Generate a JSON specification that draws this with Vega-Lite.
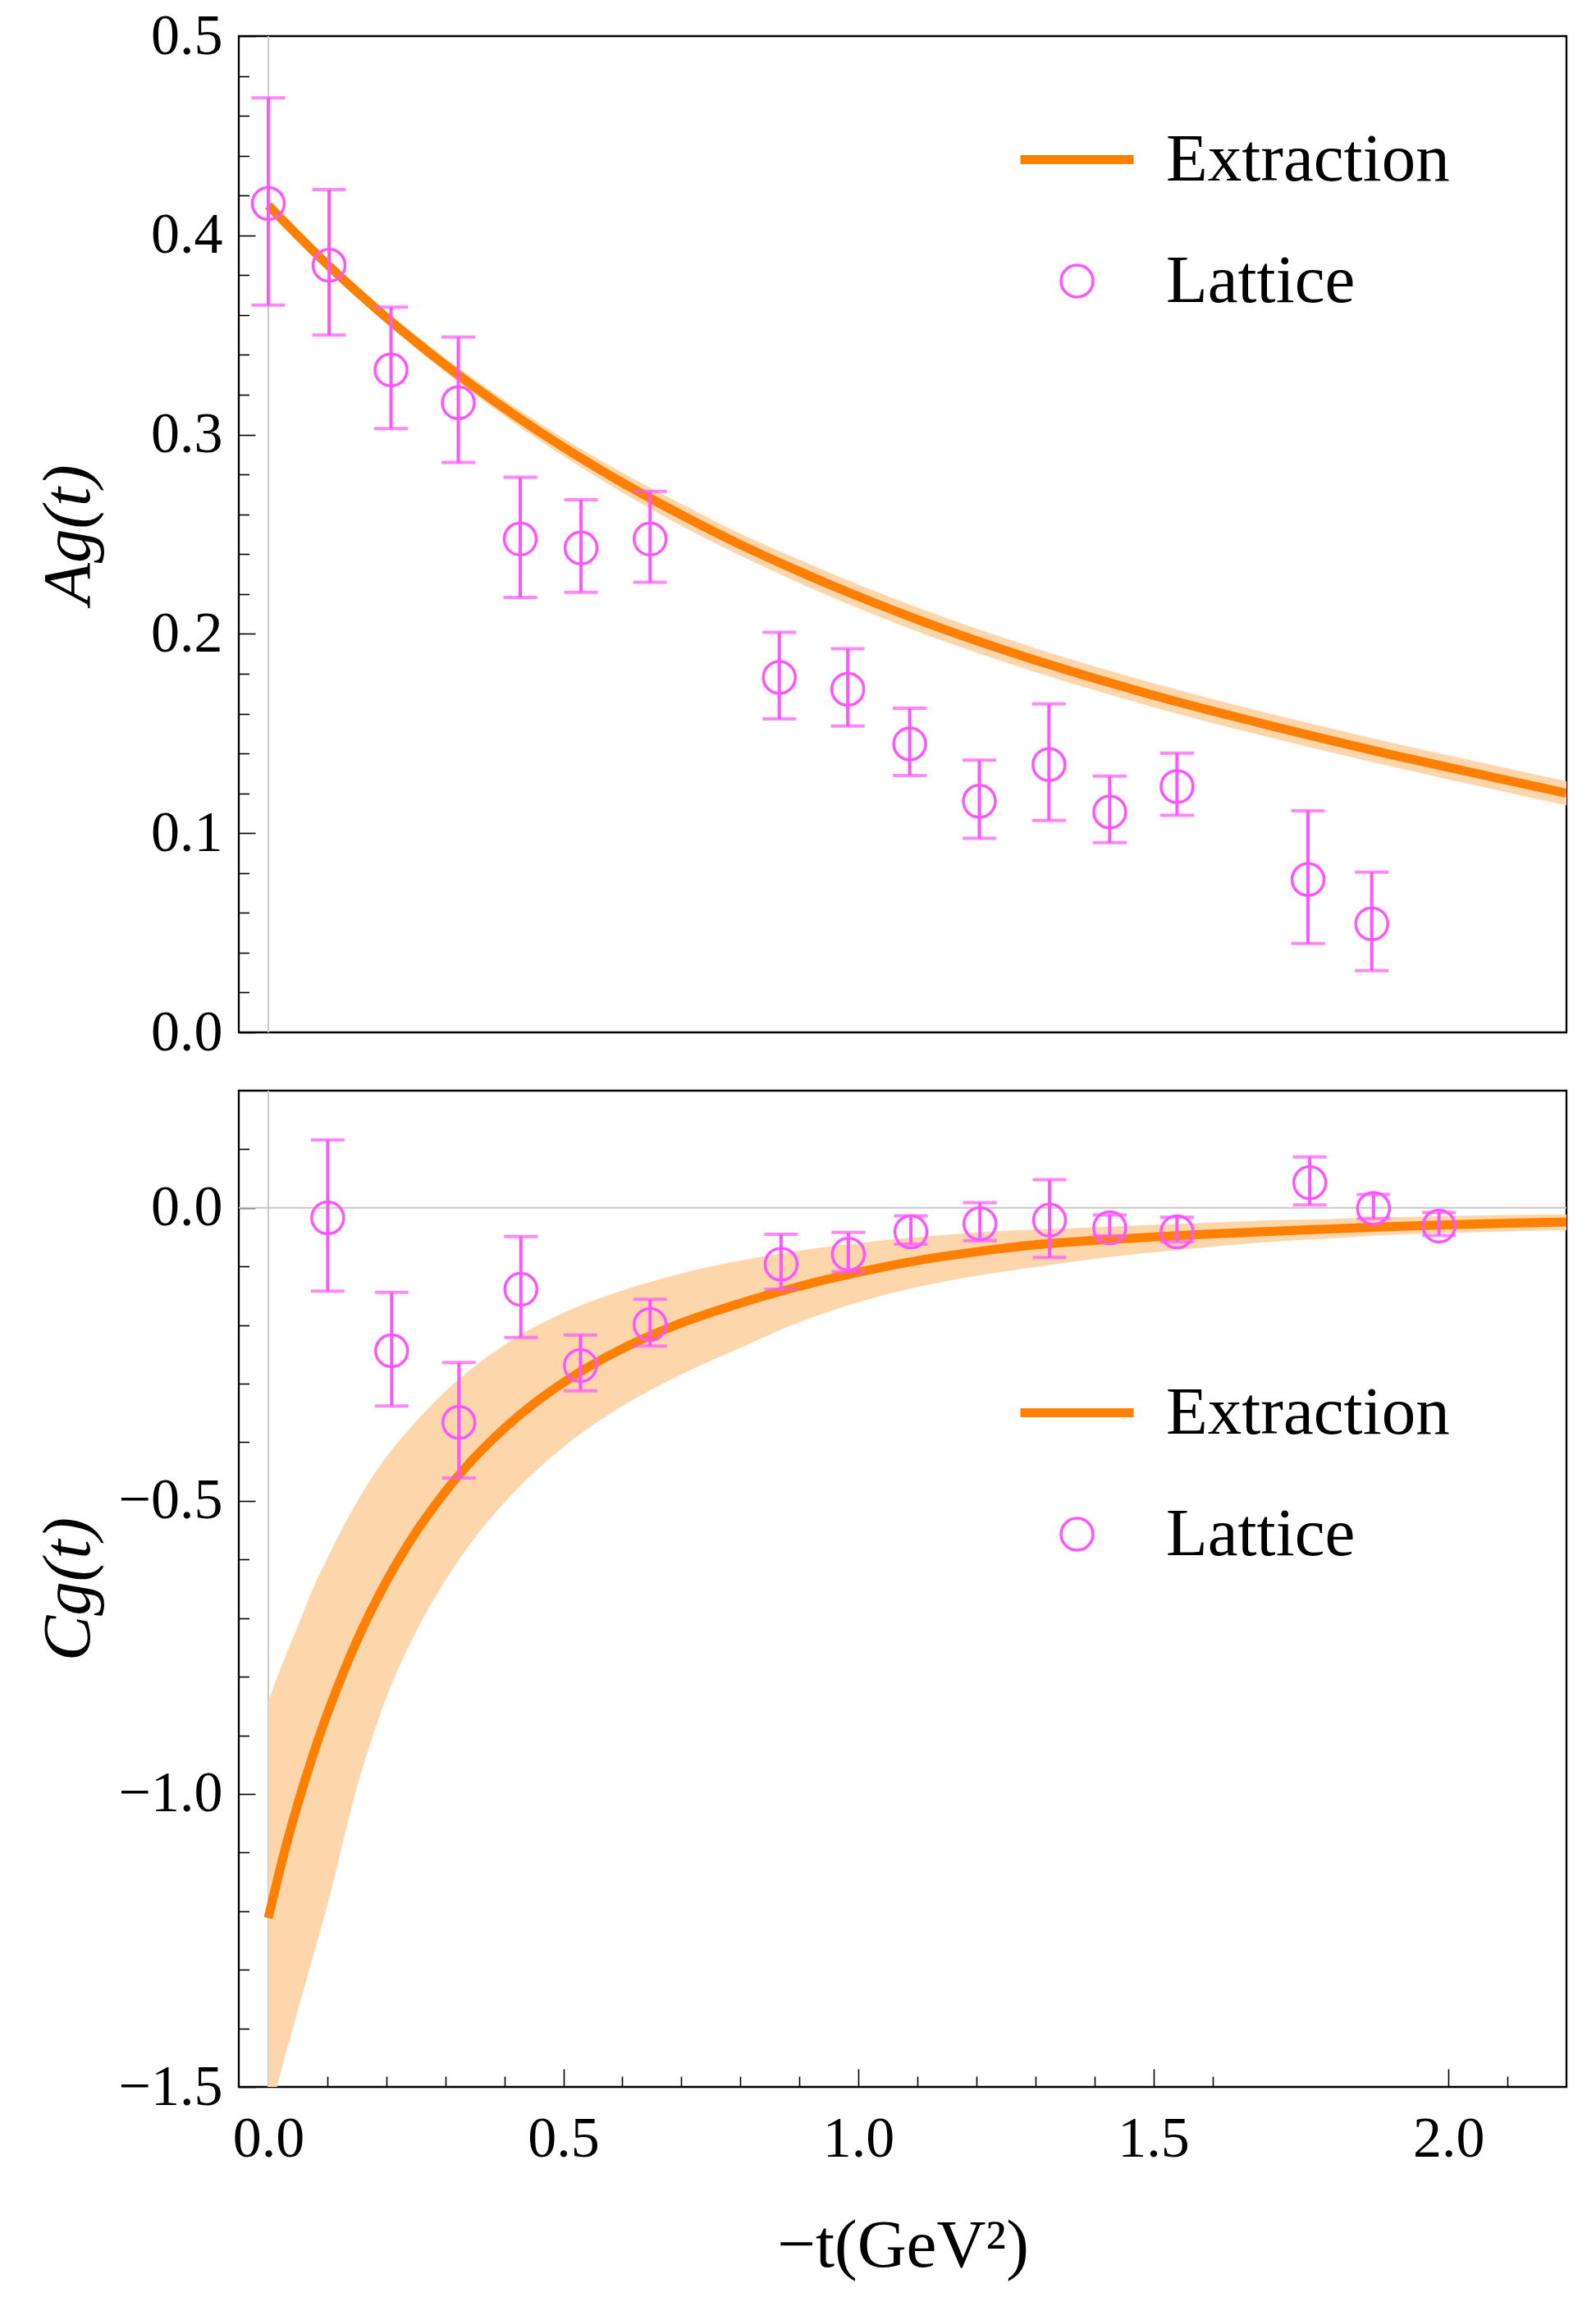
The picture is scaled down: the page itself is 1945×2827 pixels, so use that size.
{
  "$schema": "https://vega.github.io/schema/vega-lite/v6.json",
  "background": "white",
  "padding": {"left": 40, "top": 7, "right": 30, "bottom": 40},
  "config": {
    "font": "Liberation Serif",
    "view": {"stroke": "black", "strokeWidth": 2.3},
    "axis": {
      "domain": false, "grid": false, "tickColor": "black", "tickWidth": 1.6,
      "labelFont": "Liberation Serif", "labelFontSize": 70, "labelColor": "black",
      "labelFlush": false, "labelOverlap": false, "labelBound": false,
      "titleFont": "Liberation Serif", "titleFontSize": 83, "titleColor": "black", "titleFontWeight": "normal"
    },
    "legend": {
      "orient": "none", "padding": 0, "rowPadding": 64, "labelFont": "Liberation Serif",
      "labelFontSize": 83, "labelColor": "black", "labelOffset": 34, "labelLimit": 600
    }
  },
  "datasets": {
    "A_lattice": [
      {"t": 0.0, "y": 0.416, "lo": 0.365, "hi": 0.469, "series": "Lattice"},
      {"t": 0.103, "y": 0.385, "lo": 0.350, "hi": 0.423, "series": "Lattice"},
      {"t": 0.208, "y": 0.3325, "lo": 0.303, "hi": 0.364, "series": "Lattice"},
      {"t": 0.322, "y": 0.316, "lo": 0.286, "hi": 0.349, "series": "Lattice"},
      {"t": 0.427, "y": 0.2476, "lo": 0.2183, "hi": 0.2786, "series": "Lattice"},
      {"t": 0.530, "y": 0.2431, "lo": 0.2209, "hi": 0.2673, "series": "Lattice"},
      {"t": 0.647, "y": 0.2476, "lo": 0.2259, "hi": 0.2715, "series": "Lattice"},
      {"t": 0.866, "y": 0.1781, "lo": 0.1573, "hi": 0.2008, "series": "Lattice"},
      {"t": 0.982, "y": 0.1722, "lo": 0.1537, "hi": 0.1925, "series": "Lattice"},
      {"t": 1.087, "y": 0.1448, "lo": 0.1289, "hi": 0.1627, "series": "Lattice"},
      {"t": 1.205, "y": 0.116, "lo": 0.0974, "hi": 0.1366, "series": "Lattice"},
      {"t": 1.323, "y": 0.1344, "lo": 0.1064, "hi": 0.1648, "series": "Lattice"},
      {"t": 1.426, "y": 0.1106, "lo": 0.0952, "hi": 0.1286, "series": "Lattice"},
      {"t": 1.540, "y": 0.1234, "lo": 0.1089, "hi": 0.1401, "series": "Lattice"},
      {"t": 1.762, "y": 0.0767, "lo": 0.0446, "hi": 0.1112, "series": "Lattice"},
      {"t": 1.870, "y": 0.0545, "lo": 0.0310, "hi": 0.0804, "series": "Lattice"}
    ],
    "C_lattice": [
      {"t": 0.1007, "y": -0.017, "lo": -0.142, "hi": 0.116, "series": "Lattice"},
      {"t": 0.209, "y": -0.244, "lo": -0.338, "hi": -0.144, "series": "Lattice"},
      {"t": 0.323, "y": -0.366, "lo": -0.461, "hi": -0.264, "series": "Lattice"},
      {"t": 0.428, "y": -0.139, "lo": -0.221, "hi": -0.049, "series": "Lattice"},
      {"t": 0.529, "y": -0.269, "lo": -0.312, "hi": -0.217, "series": "Lattice"},
      {"t": 0.647, "y": -0.199, "lo": -0.236, "hi": -0.156, "series": "Lattice"},
      {"t": 0.869, "y": -0.096, "lo": -0.139, "hi": -0.045, "series": "Lattice"},
      {"t": 0.983, "y": -0.079, "lo": -0.109, "hi": -0.042, "series": "Lattice"},
      {"t": 1.089, "y": -0.041, "lo": -0.062, "hi": -0.0135, "series": "Lattice"},
      {"t": 1.206, "y": -0.027, "lo": -0.056, "hi": 0.009, "series": "Lattice"},
      {"t": 1.324, "y": -0.021, "lo": -0.0845, "hi": 0.048, "series": "Lattice"},
      {"t": 1.426, "y": -0.034, "lo": -0.048, "hi": -0.012, "series": "Lattice"},
      {"t": 1.540, "y": -0.041, "lo": -0.058, "hi": -0.016, "series": "Lattice"},
      {"t": 1.765, "y": 0.043, "lo": 0.005, "hi": 0.087, "series": "Lattice"},
      {"t": 1.873, "y": -0.001, "lo": -0.018, "hi": 0.023, "series": "Lattice"},
      {"t": 1.984, "y": -0.031, "lo": -0.047, "hi": -0.008, "series": "Lattice"}
    ],
    "A_curve": [
      {"t": 0.0, "y": 0.415, "lo": 0.413, "hi": 0.417},
      {"t": 0.1, "y": 0.3854, "lo": 0.3829, "hi": 0.3879},
      {"t": 0.2, "y": 0.3588, "lo": 0.3558, "hi": 0.3618},
      {"t": 0.3, "y": 0.3349, "lo": 0.3314, "hi": 0.3384},
      {"t": 0.4, "y": 0.3133, "lo": 0.3093, "hi": 0.3173},
      {"t": 0.5, "y": 0.2937, "lo": 0.2892, "hi": 0.2982},
      {"t": 0.6, "y": 0.2759, "lo": 0.2709, "hi": 0.2809},
      {"t": 0.7, "y": 0.2597, "lo": 0.2542, "hi": 0.2652},
      {"t": 0.8, "y": 0.2448, "lo": 0.2393, "hi": 0.2503},
      {"t": 0.9, "y": 0.2313, "lo": 0.2255, "hi": 0.2371},
      {"t": 1.0, "y": 0.2188, "lo": 0.2128, "hi": 0.2248},
      {"t": 1.1, "y": 0.2072, "lo": 0.2012, "hi": 0.2132},
      {"t": 1.2, "y": 0.1966, "lo": 0.1906, "hi": 0.2026},
      {"t": 1.3, "y": 0.1868, "lo": 0.1808, "hi": 0.1928},
      {"t": 1.4, "y": 0.1777, "lo": 0.1717, "hi": 0.1837},
      {"t": 1.5, "y": 0.1692, "lo": 0.1632, "hi": 0.1752},
      {"t": 1.6, "y": 0.1613, "lo": 0.1553, "hi": 0.1673},
      {"t": 1.7, "y": 0.1538, "lo": 0.1478, "hi": 0.1598},
      {"t": 1.8, "y": 0.1466, "lo": 0.1406, "hi": 0.1526},
      {"t": 1.9, "y": 0.1396, "lo": 0.1336, "hi": 0.1456},
      {"t": 2.0, "y": 0.1330, "lo": 0.1270, "hi": 0.1390},
      {"t": 2.1, "y": 0.1265, "lo": 0.1205, "hi": 0.1325},
      {"t": 2.2, "y": 0.1200, "lo": 0.1140, "hi": 0.1260}
    ],
    "C_curve": [
      {"t": 0.0, "y": -1.212, "lo": -1.56, "hi": -0.842},
      {"t": 0.025, "y": -1.108, "lo": -1.46, "hi": -0.775},
      {"t": 0.05, "y": -1.017, "lo": -1.37, "hi": -0.714},
      {"t": 0.075, "y": -0.936, "lo": -1.28, "hi": -0.651},
      {"t": 0.1, "y": -0.8635, "lo": -1.19, "hi": -0.598},
      {"t": 0.15, "y": -0.739, "lo": -0.99, "hi": -0.502},
      {"t": 0.2, "y": -0.6375, "lo": -0.836, "hi": -0.425},
      {"t": 0.25, "y": -0.5538, "lo": -0.724, "hi": -0.365},
      {"t": 0.3, "y": -0.4841, "lo": -0.636, "hi": -0.313},
      {"t": 0.35, "y": -0.4256, "lo": -0.563, "hi": -0.270},
      {"t": 0.4, "y": -0.3762, "lo": -0.503, "hi": -0.234},
      {"t": 0.45, "y": -0.3341, "lo": -0.452, "hi": -0.204},
      {"t": 0.5, "y": -0.2981, "lo": -0.408, "hi": -0.179},
      {"t": 0.6, "y": -0.2402, "lo": -0.338, "hi": -0.141},
      {"t": 0.7, "y": -0.1964, "lo": -0.284, "hi": -0.112},
      {"t": 0.8, "y": -0.1626, "lo": -0.239, "hi": -0.090},
      {"t": 0.9, "y": -0.134, "lo": -0.195, "hi": -0.073},
      {"t": 1.0, "y": -0.110, "lo": -0.161, "hi": -0.060},
      {"t": 1.1, "y": -0.090, "lo": -0.135, "hi": -0.050},
      {"t": 1.2, "y": -0.075, "lo": -0.116, "hi": -0.042},
      {"t": 1.3, "y": -0.063, "lo": -0.101, "hi": -0.037},
      {"t": 1.4, "y": -0.0555, "lo": -0.087, "hi": -0.033},
      {"t": 1.5, "y": -0.0495, "lo": -0.076, "hi": -0.029},
      {"t": 1.6, "y": -0.0445, "lo": -0.066, "hi": -0.025},
      {"t": 1.7, "y": -0.040, "lo": -0.058, "hi": -0.021},
      {"t": 1.8, "y": -0.036, "lo": -0.052, "hi": -0.019},
      {"t": 1.9, "y": -0.032, "lo": -0.046, "hi": -0.016},
      {"t": 2.0, "y": -0.029, "lo": -0.043, "hi": -0.014},
      {"t": 2.1, "y": -0.026, "lo": -0.040, "hi": -0.012},
      {"t": 2.2, "y": -0.024, "lo": -0.038, "hi": -0.011}
    ]
  },
  "spacing": 71,
  "bounds": "flush",
  "resolve": {"scale": {"x": "independent", "y": "independent", "color": "independent", "shape": "independent", "size": "independent", "strokeWidth": "independent"}},
  "vconcat": [
    {
      "width": 1618,
      "height": 1214,
      "resolve": {"axis": {"y": "independent"}},
      "layer": [
        {
          "data": {"values": [{}]},
          "mark": {"type": "rule", "color": "#C8C8C8", "strokeWidth": 2},
          "encoding": {
            "x": {"datum": 0, "type": "quantitative", "scale": {"domain": [-0.05, 2.2], "nice": false, "zero": false}, "axis": null}
          }
        },
        {
          "data": {"name": "A_curve"},
          "mark": {"type": "area", "color": "#FED6AB", "interpolate": "monotone", "clip": true},
          "encoding": {
            "x": {"field": "t", "type": "quantitative", "axis": null},
            "y": {
              "field": "lo", "type": "quantitative", "title": "Ag(t)",
              "scale": {"domain": [0, 0.5], "nice": false, "zero": false},
              "axis": {
                "orient": "left",
                "values": [0, 0.1, 0.2, 0.3, 0.4, 0.5],
                "format": ".1f",
                "tickSize": -20,
                "labelPadding": 40,
                "titleX": -208,
                "titleBaseline": "middle",
                "titleFontStyle": "italic"
              }
            },
            "y2": {"field": "hi"}
          }
        },
        {
          "data": {"name": "A_curve"},
          "mark": {"type": "line", "color": "#FF8000", "strokeWidth": 11, "interpolate": "monotone", "clip": true},
          "encoding": {
            "x": {"field": "t", "type": "quantitative", "axis": null},
            "y": {
              "field": "y", "type": "quantitative",
              "axis": {
                "orient": "left", "title": null, "labels": false, "tickSize": -12.5,
                "values": [0.02, 0.04, 0.06, 0.08, 0.12, 0.14, 0.16, 0.18, 0.22, 0.24, 0.26, 0.28, 0.32, 0.34, 0.36, 0.38, 0.42, 0.44, 0.46, 0.48]
              }
            }
          }
        },
        {
          "data": {"name": "A_lattice"},
          "mark": {"type": "errorbar", "color": "#FF55FF", "thickness": 4, "ticks": {"size": 41, "thickness": 4, "color": "#FF55FF"}, "rule": {"strokeWidth": 4, "color": "#FF55FF"}},
          "encoding": {
            "x": {"field": "t", "type": "quantitative", "axis": null},
            "y": {"field": "lo", "type": "quantitative", "axis": null},
            "y2": {"field": "hi"}
          }
        },
        {
          "data": {"name": "A_lattice"},
          "mark": {"type": "point", "filled": false, "opacity": 1},
          "encoding": {
            "x": {"field": "t", "type": "quantitative", "axis": null},
            "y": {"field": "y", "type": "quantitative", "axis": null},
            "color": {
              "field": "series", "type": "nominal",
              "scale": {"domain": ["Extraction", "Lattice"], "range": ["#FF8000", "#FF55FF"]},
              "legend": {"title": null, "legendX": 947, "legendY": 76}
            },
            "shape": {
              "field": "series", "type": "nominal",
              "scale": {"domain": ["Extraction", "Lattice"], "range": ["stroke", "circle"]},
              "legend": {"title": null, "legendX": 947, "legendY": 76}
            },
            "size": {
              "field": "series", "type": "nominal",
              "scale": {"type": "ordinal", "domain": ["Extraction", "Lattice"], "range": [19044, 1521]},
              "legend": {"title": null, "legendX": 947, "legendY": 76}
            },
            "strokeWidth": {
              "field": "series", "type": "nominal",
              "scale": {"type": "ordinal", "domain": ["Extraction", "Lattice"], "range": [11, 3.5]},
              "legend": {"title": null, "legendX": 947, "legendY": 76}
            }
          }
        }
      ]
    },
    {
      "width": 1618,
      "height": 1214,
      "resolve": {"axis": {"x": "independent", "y": "independent"}},
      "layer": [
        {
          "data": {"values": [{}]},
          "mark": {"type": "rule", "color": "#C8C8C8", "strokeWidth": 2},
          "encoding": {
            "x": {"datum": 0, "type": "quantitative", "scale": {"domain": [-0.05, 2.2], "nice": false, "zero": false}, "axis": null}
          }
        },
        {
          "data": {"values": [{}]},
          "mark": {"type": "rule", "color": "#C8C8C8", "strokeWidth": 2},
          "encoding": {
            "y": {"datum": 0, "type": "quantitative", "scale": {"domain": [-1.5, 0.2], "nice": false, "zero": false}, "axis": null}
          }
        },
        {
          "data": {"name": "C_curve"},
          "mark": {"type": "area", "color": "#FED6AB", "interpolate": "monotone", "clip": true},
          "encoding": {
            "x": {
              "field": "t", "type": "quantitative", "title": "−t(GeV²)",
              "axis": {
                "orient": "bottom",
                "values": [0, 0.5, 1, 1.5, 2],
                "format": ".1f",
                "tickSize": -22,
                "labelPadding": 51,
                "titleY": 218,
                "titleBaseline": "alphabetic"
              }
            },
            "y": {
              "field": "lo", "type": "quantitative", "title": "Cg(t)",
              "axis": {
                "orient": "left",
                "values": [-1.5, -1, -0.5, 0],
                "format": ".1f",
                "tickSize": -20,
                "labelPadding": 40,
                "titleX": -208,
                "titleBaseline": "middle",
                "titleFontStyle": "italic"
              }
            },
            "y2": {"field": "hi"}
          }
        },
        {
          "data": {"name": "C_curve"},
          "mark": {"type": "line", "color": "#FF8000", "strokeWidth": 11, "interpolate": "monotone", "clip": true},
          "encoding": {
            "x": {
              "field": "t", "type": "quantitative",
              "axis": {
                "orient": "bottom", "title": null, "labels": false, "tickSize": -13,
                "values": [0.1, 0.2, 0.3, 0.4, 0.6, 0.7, 0.8, 0.9, 1.1, 1.2, 1.3, 1.4, 1.6, 2.1]
              }
            },
            "y": {
              "field": "y", "type": "quantitative",
              "axis": {
                "orient": "left", "title": null, "labels": false, "tickSize": -12.5,
                "values": [-1.4, -1.3, -1.2, -1.1, -0.9, -0.8, -0.7, -0.6, -0.4, -0.3, -0.2, -0.1, 0.1]
              }
            }
          }
        },
        {
          "data": {"name": "C_lattice"},
          "mark": {"type": "errorbar", "color": "#FF55FF", "thickness": 4, "ticks": {"size": 41, "thickness": 4, "color": "#FF55FF"}, "rule": {"strokeWidth": 4, "color": "#FF55FF"}},
          "encoding": {
            "x": {"field": "t", "type": "quantitative", "axis": null},
            "y": {"field": "lo", "type": "quantitative", "axis": null},
            "y2": {"field": "hi"}
          }
        },
        {
          "data": {"name": "C_lattice"},
          "mark": {"type": "point", "filled": false, "opacity": 1},
          "encoding": {
            "x": {"field": "t", "type": "quantitative", "axis": null},
            "y": {"field": "y", "type": "quantitative", "axis": null},
            "color": {
              "field": "series", "type": "nominal",
              "scale": {"domain": ["Extraction", "Lattice"], "range": ["#FF8000", "#FF55FF"]},
              "legend": {"title": null, "legendX": 947, "legendY": 318}
            },
            "shape": {
              "field": "series", "type": "nominal",
              "scale": {"domain": ["Extraction", "Lattice"], "range": ["stroke", "circle"]},
              "legend": {"title": null, "legendX": 947, "legendY": 318}
            },
            "size": {
              "field": "series", "type": "nominal",
              "scale": {"type": "ordinal", "domain": ["Extraction", "Lattice"], "range": [19044, 1521]},
              "legend": {"title": null, "legendX": 947, "legendY": 318}
            },
            "strokeWidth": {
              "field": "series", "type": "nominal",
              "scale": {"type": "ordinal", "domain": ["Extraction", "Lattice"], "range": [11, 3.5]},
              "legend": {"title": null, "legendX": 947, "legendY": 318}
            }
          }
        }
      ]
    }
  ]
}
